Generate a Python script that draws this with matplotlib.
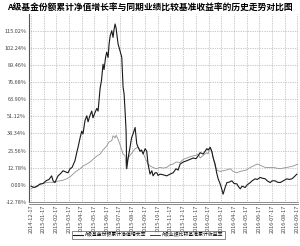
import numpy as np
import matplotlib
matplotlib.use("Agg")
import matplotlib.pyplot as plt

plt.rcParams['font.family'] = ['Noto Sans CJK SC', 'DejaVu Sans']

# chart text
title = "A级基金份额累计净值增长率与同期业绩比较基准收益率的历史走势对比图"
fund_name = "A级基金份额累计净值增长率"
bench_name = "A级业绩比较基准累计收益率"

# x tick labels (one per month)
date_labels = ["2014-12-17", "2015-01-17", "2015-02-17", "2015-03-17", "2015-04-17",
               "2015-05-17", "2015-06-17", "2015-07-17", "2015-08-17", "2015-09-17",
               "2015-10-17", "2015-11-17", "2015-12-17", "2016-01-17", "2016-02-17",
               "2016-03-17", "2016-04-17", "2016-05-17", "2016-06-17", "2016-07-17",
               "2016-08-17", "2016-09-17"]

# y ticks (%)
y_ticks = [-12.78, 0.00, 12.78, 25.56, 38.34, 51.12, 63.90, 76.68, 89.46, 102.24, 115.02]
y_top = 127.80

# fund series: month offset from start, cumulative growth %
fund_x = [0.00, 0.24, 0.47, 0.71, 0.95, 1.18, 1.42, 1.63, 1.74, 1.89, 2.13, 2.29, 2.53, 2.76,
          2.92, 3.08, 3.24, 3.47, 3.63, 3.71, 3.87, 4.00, 4.10, 4.26, 4.40, 4.50, 4.66, 4.79,
          4.89, 5.05, 5.19, 5.29, 5.45, 5.56, 5.68, 5.76, 5.88, 5.97, 6.08, 6.16, 6.24, 6.37,
          6.47, 6.55, 6.63, 6.71, 6.76, 6.87, 7.02, 7.16, 7.26, 7.34, 7.42, 7.50, 7.55, 7.66,
          7.81, 7.93, 8.05, 8.21, 8.34, 8.45, 8.60, 8.72, 8.84, 9.00, 9.13, 9.23, 9.39, 9.53,
          9.63, 9.79, 9.92, 10.02, 10.18, 10.42, 10.71, 10.97, 11.21, 11.44, 11.60, 11.76,
          12.00, 12.29, 12.55, 12.79, 13.02, 13.18, 13.34, 13.58, 13.73, 13.87, 13.97, 14.13,
          14.26, 14.37, 14.52, 14.64, 14.76, 14.92, 15.04, 15.15, 15.31, 15.45, 15.63, 15.84,
          16.02, 16.24, 16.34, 16.50, 16.65, 16.89, 17.05, 17.29, 17.44, 17.68, 17.84, 18.07,
          18.23, 18.47, 18.63, 18.86, 19.02, 19.26, 19.42, 19.65, 19.89, 20.18, 20.36, 20.58,
          20.76, 20.97]
fund_y = [-1, -2, -1, 0.5, 1, 3, 4, 6.7, 3, 1.7, 6.7, 8, 10.5, 9.5,
          9, 12, 13, 18, 25, 28, 35, 40, 38, 48, 51.5, 47, 52, 55,
          50, 54, 57, 55, 72, 78, 90, 86, 95, 99, 95, 105, 111, 115,
          110, 116, 120, 117, 113, 105, 100, 95, 73, 68, 55, 40, 12, 20,
          28, 35, 38, 42.8, 30.6, 28, 25, 26, 23, 27, 25, 15.5, 8, 10.5,
          6.7, 9, 9, 7, 8, 7.5, 6.7, 8, 9, 12, 11, 15.5,
          17, 18, 19, 20, 19.5, 21.6, 24, 23, 25, 27, 26, 28,
          25, 20, 15.5, 9, 4.5, 0.7, -3, -7, -2, 1.7, 2, 3,
          1, 0.7, -1, -3, -1, -2, 0, 1.7, 3, 4.5, 4, 5.5,
          5, 4.5, 3, 1.7, 3, 3, 2, 1.7, 3, 4.5, 4, 4.5,
          6, 8]

# benchmark series
bench_x = [0.00, 0.16, 0.32, 0.55, 0.71, 0.95, 1.24, 1.50, 1.74, 1.97, 2.29, 2.53, 2.82,
           3.08, 3.32, 3.55, 3.87, 4.10, 4.40, 4.66, 4.89, 5.13, 5.45, 5.68, 5.97, 6.16,
           6.37, 6.47, 6.63, 6.71, 6.87, 7.02, 7.26, 7.42, 7.50, 7.66, 7.81, 8.05, 8.21,
           8.45, 8.60, 8.84, 9.00, 9.23, 9.39, 9.63, 9.87, 10.18, 10.42, 10.71, 10.97,
           11.21, 11.44, 11.76, 12.00, 12.29, 12.55, 12.79, 13.02, 13.18, 13.34, 13.58,
           13.87, 13.97, 14.13, 14.26, 14.37, 14.52, 14.68, 14.76, 14.92, 15.15, 15.39,
           15.71, 15.94, 16.24, 16.50, 16.73, 16.97, 17.29, 17.52, 17.82, 18.00, 18.21,
           18.47, 18.60, 18.86, 19.10, 19.34, 19.65, 19.89, 20.18, 20.44, 20.68, 20.92, 21.07]
bench_y = [-3, -2, -2, -1, 0.7, 1, 1.7, 2, 1.7, 2.5, 3, 3.5, 4.5,
           6, 8, 10, 12, 14, 15.5, 17, 19, 21, 23, 26, 29, 32,
           33, 36.6, 35, 37, 34, 30, 23, 22, 13, 20, 22, 25, 27,
           28, 26, 24, 20, 15.5, 14, 13, 12, 13, 12.5, 13, 15,
           15.5, 17, 16.7, 19, 20, 21, 21.6, 22, 23, 20, 22,
           24, 23, 28, 25, 20, 14, 11, 10.5, 10, 10.5, 11,
           12, 10, 9, 10, 10.5, 11, 13, 14, 15.5, 15, 14,
           13, 13, 13, 13, 12.5, 12, 12.5, 13, 13.5, 14, 15, 15.5]

fig = plt.figure(figsize=(3.0, 2.46), dpi=100)
ax = fig.add_axes([0.097, 0.179, 0.896, 0.766])

ax.plot(bench_x, bench_y, color="#909090", lw=0.6, label=bench_name)
ax.plot(fund_x, fund_y, color="#1a1a1a", lw=0.8, label=fund_name)

ax.set_xlim(-0.15, len(date_labels) - 1 + 0.05)
ax.set_ylim(y_ticks[0], y_top)
ax.set_yticks(y_ticks)
ax.set_yticklabels(["{:.2f}%".format(v) for v in y_ticks])
ax.set_xticks(range(len(date_labels)))
ax.set_xticklabels(date_labels, rotation=90)
ax.tick_params(axis="both", labelsize=4, colors="#444444", length=0, pad=2)
ax.grid(True, color="#999999", lw=0.5, ls=(0, (1, 1.5)))

for s in ["top", "right"]:
    ax.spines[s].set_visible(False)
ax.spines["left"].set_color("#555555")
ax.spines["left"].set_linewidth(0.8)
ax.spines["bottom"].set_color("#777777")
ax.spines["bottom"].set_linewidth(0.6)
# second line under the bottom axis
ax.plot([0, 1], [-0.01, -0.01], transform=ax.transAxes, clip_on=False,
        color="#777777", lw=0.6)

fig.text(0.5, 0.972, title, ha="center", va="center", fontsize=6.3, fontweight="bold")

h, l = ax.get_legend_handles_labels()
leg = fig.legend(h[::-1], l[::-1], loc="center", bbox_to_anchor=(0.495, 0.045), ncol=2,
                 fontsize=3.5, frameon=True, fancybox=False, edgecolor="#333333",
                 handlelength=2.0, borderpad=0.3, columnspacing=0.8, handletextpad=0.4)
leg.get_frame().set_linewidth(0.5)
for line in leg.get_lines():
    line.set_color("#1a1a1a")

fig.savefig("out.png", dpi=100)
